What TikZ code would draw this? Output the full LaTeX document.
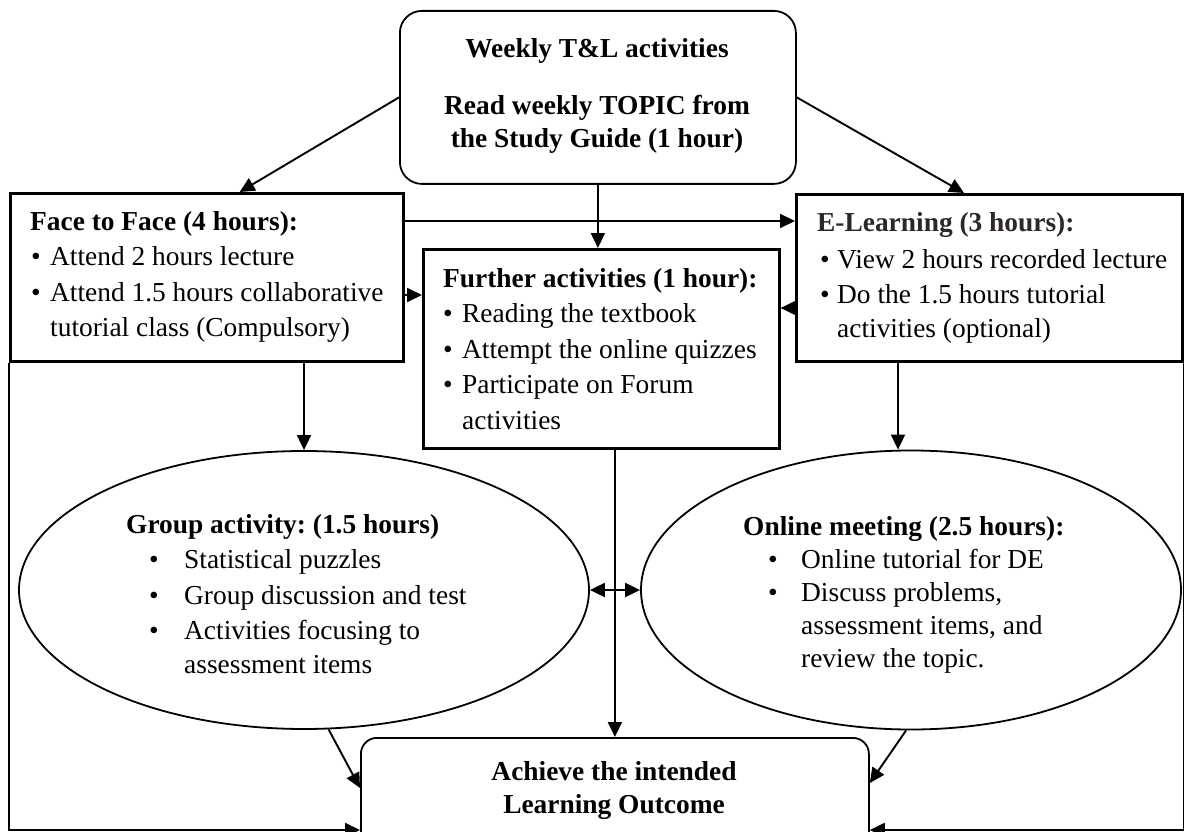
\documentclass[tikz,border=0pt]{standalone}
\usepackage{fontspec}
\setmainfont{Liberation Serif}
\usetikzlibrary{arrows.meta,shapes.geometric,calc}
\definecolor{eltitle}{RGB}{45,40,40}
\newcommand{\fs}{\fontsize{27.4}{35}\selectfont}
\frenchspacing
\begin{document}
\begin{tikzpicture}[x=1pt,y=-1pt,
  txt/.style={anchor=base west,inner sep=0pt,font=\fs},
  btxt/.style={anchor=base west,inner sep=0pt,font=\fs\bfseries},
  ctxt/.style={anchor=base,inner sep=0pt,font=\fs\bfseries},
  thickbox/.style={draw,line width=2.6pt,inner sep=0pt,anchor=north west},
  roundbox/.style={draw,line width=1.8pt,rounded corners=22pt,inner sep=0pt,anchor=north west},
  oval/.style={draw,ellipse,line width=1.8pt,inner sep=0pt},
  arr/.style={line width=1.9pt,-{Triangle[length=15pt,width=14pt]}},
  darr/.style={line width=1.9pt,{Triangle[length=15pt,width=14pt]}-{Triangle[length=15pt,width=14pt]}}
]
\useasboundingbox (0,0) rectangle (1184,832);
\fill[white] (0,0) rectangle (1184,832);
\clip (0,0) rectangle (1184,832);

% boxes
\node[roundbox,minimum width=396,minimum height=173] (weekly) at (399,10) {};
\node[thickbox,minimum width=393,minimum height=168] (face) at (9,192) {};
\node[thickbox,minimum width=386,minimum height=167] (elearn) at (795,193) {};
\node[thickbox,minimum width=356,minimum height=199] (further) at (422,248) {};
\node[oval,minimum width=570,minimum height=278] (group) at (304,590) {};
\node[oval,minimum width=540,minimum height=279] (online) at (911,590) {};
\node[roundbox,rounded corners=16pt,minimum width=508,minimum height=130] (achieve) at (360,737) {};

% weekly text
\node[ctxt] (w1) at (597,58) {Weekly T\&L activities};
\node[ctxt] (w2) at (597,115) {Read weekly TOPIC from};
\node[ctxt] (w3) at (597,148) {the Study Guide (1 hour)};

% face to face text
\node[btxt] (f0) at (30,230) {Face to Face (4 hours):};
\node[txt] (f1b) at (31,265) {•};
\node[txt] (f1) at (50,265) {Attend 2 hours lecture};
\node[txt] (f2b) at (31,301) {•};
\node[txt] (f2) at (50,301) {Attend 1.5 hours collaborative};
\node[txt] (f3) at (50,336) {tutorial class (Compulsory)};

% e-learning text
\node[btxt,text=eltitle] (e0) at (817,231) {E-Learning (3 hours):};
\node[txt] (e1b) at (820,268) {•};
\node[txt] (e1) at (837,268) {View 2 hours recorded lecture};
\node[txt] (e2b) at (820,303) {•};
\node[txt] (e2) at (837,303) {Do the 1.5 hours tutorial};
\node[txt] (e3) at (837,337) {activities (optional)};

% further text
\node[btxt] (u0) at (443,287) {Further activities (1 hour):};
\node[txt] (u1b) at (443,322.5) {•};
\node[txt] (u1) at (462,322.5) {Reading the textbook};
\node[txt] (u2b) at (443,358) {•};
\node[txt] (u2) at (462,358) {Attempt the online quizzes};
\node[txt] (u3b) at (443,393.5) {•};
\node[txt] (u3) at (462,393.5) {Participate on Forum};
\node[txt] (u4) at (462,429) {activities};

% group text
\node[btxt] (g0) at (126,533) {Group activity: (1.5 hours)};
\node[txt] (g1b) at (149,568) {•};
\node[txt] (g1) at (184,568) {Statistical puzzles};
\node[txt] (g2b) at (149,604) {•};
\node[txt] (g2) at (184,604) {Group discussion and test};
\node[txt] (g3b) at (149,639) {•};
\node[txt] (g3) at (184,639) {Activities focusing to};
\node[txt] (g4) at (184,673) {assessment items};

% online text
\node[btxt] (o0) at (743,535) {Online meeting (2.5 hours):};
\node[txt] (o1b) at (768,568) {•};
\node[txt] (o1) at (801,568) {Online tutorial for DE};
\node[txt] (o2b) at (768,601) {•};
\node[txt] (o2) at (801,601) {Discuss problems,};
\node[txt] (o3) at (801,634) {assessment items, and};
\node[txt] (o4) at (801,667) {review the topic.};

% achieve text
\node[ctxt] (a1) at (614,780) {Achieve the intended};
\node[ctxt] (a2) at (614,813) {Learning Outcome};

% connectors
\draw[arr] (weekly.west) -- ($(face.north west)!0.583!(face.north east)$);
\draw[arr] (weekly.east) -- ($(elearn.north west)!0.435!(elearn.north east)$);
\draw[arr] (weekly.south) -- (weekly.south |- further.north);
\coordinate (p1) at ($(face.north east)+(0,29)$);
\draw[arr] (p1) -- (p1 -| elearn.west);
\coordinate (p2) at ($(face.north east)+(0,103)$);
\draw[arr] (p2) -- (p2 -| further.west);
\coordinate (p3) at ($(elearn.north west)+(0,115)$);
\draw[arr] (p3) -- (p3 -| further.east);
\draw[arr] (group.north |- face.south) -- (group.north);
\coordinate (p4) at ($(elearn.south west)+(103,0)$);
\draw[arr] (p4) -- (p4 |- online.north);
\draw[arr] (achieve.north |- further.south) -- (achieve.north);
\draw[darr] (group.east) -- (online.west);
\draw[arr] (group.-80.6) -- ($(achieve.north west)+(0,51)$);
\draw[arr] (online.-92.5) -- ($(achieve.north east)+(0,46)$);
\coordinate (bottomline) at (0,830);
\draw[arr] (face.south west) -- (face.south west |- bottomline) -- (achieve.west |- bottomline);
\draw[arr] (elearn.south east) -- (elearn.south east |- bottomline) -- (achieve.east |- bottomline);
\end{tikzpicture}
\end{document}
